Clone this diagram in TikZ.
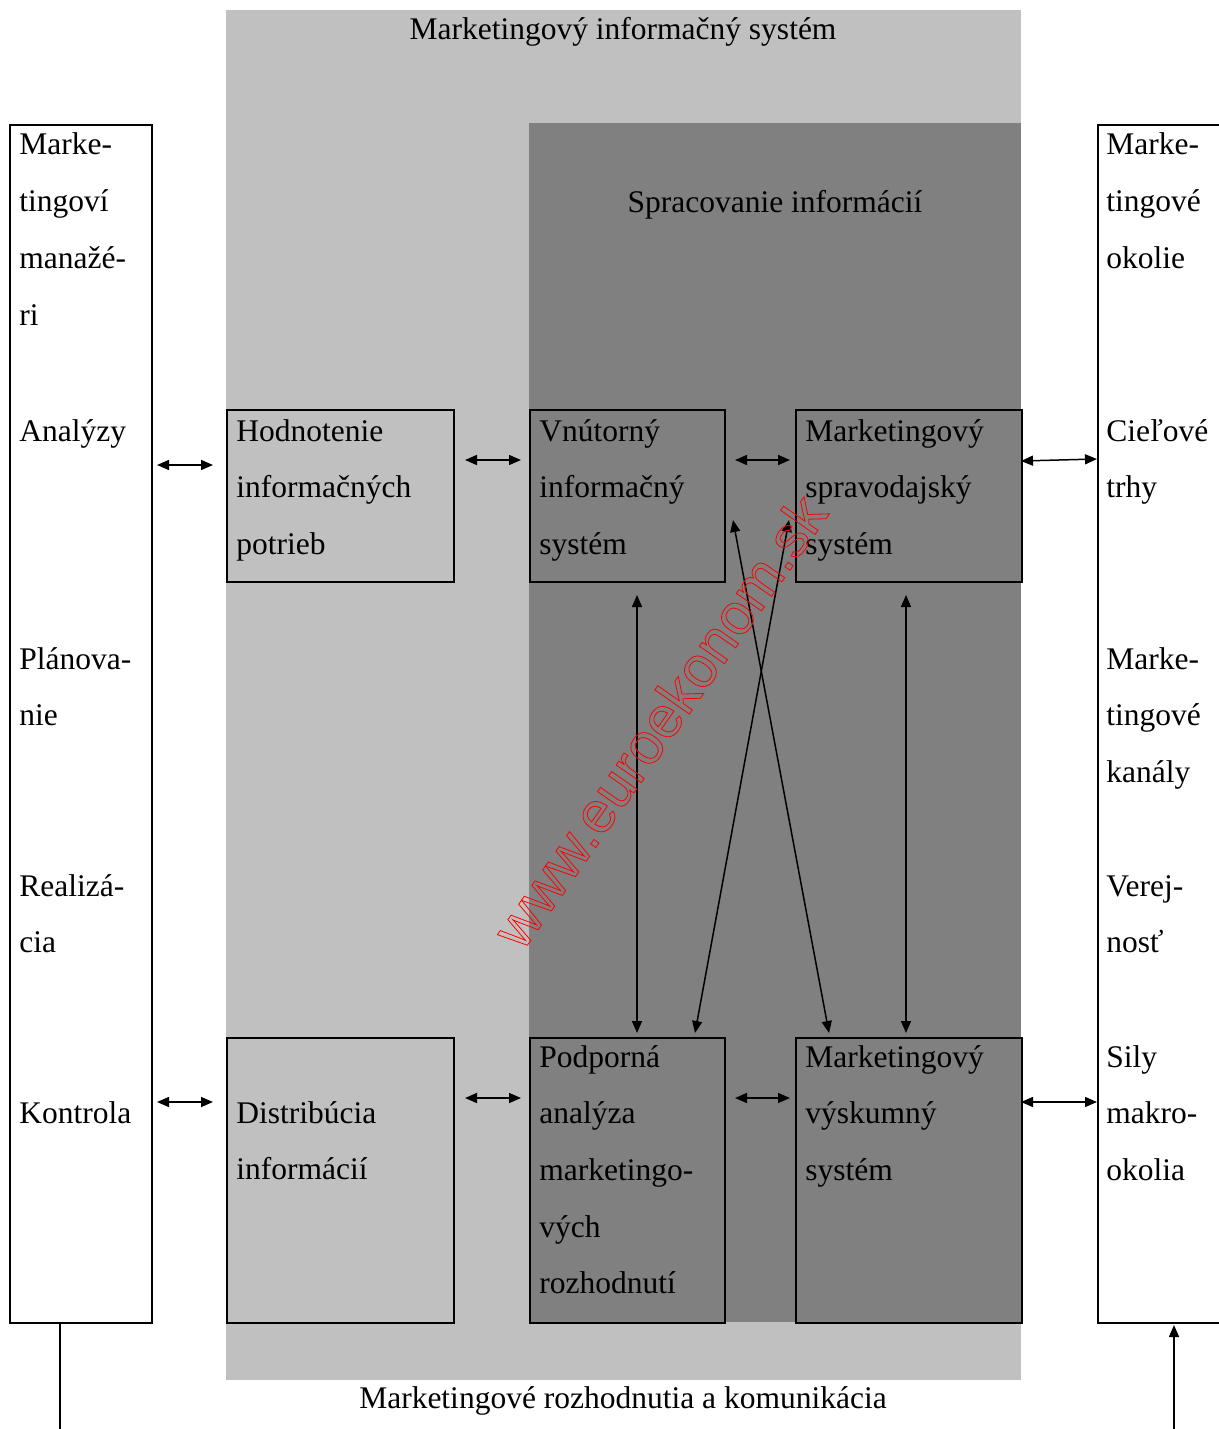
\documentclass[tikz,border=0pt]{standalone}
\usepackage{fontspec}
\setmainfont{Liberation Serif}
\newfontfamily\wmfont{Liberation Sans}
\usetikzlibrary{arrows.meta}
\definecolor{lightbg}{HTML}{C0C0C0}
\definecolor{darkbg}{HTML}{808080}
\newcommand\txtlines[4]{%
  \foreach \t [count=\i] in {#4} {
    \node[lbl] (#1-\i) at (#2, {#3+56.7*(\i-1)}) {\t};
  }%
}
\begin{document}
\begin{tikzpicture}[x=0.5pt,y=-0.5pt,
  lbl/.style={anchor=base west, inner sep=0pt, font=\fontsize{15.75}{18}\selectfont},
  title/.style={anchor=base, inner sep=0pt, font=\fontsize{15.75}{18}\selectfont},
  boxline/.style={draw=black, line width=1pt},
  conn/.style={line width=0.75pt, {Triangle[length=6pt,width=5pt]}-{Triangle[length=6pt,width=5pt]}},
  oneway/.style={line width=0.75pt, -{Triangle[length=6pt,width=5pt]}}]
\useasboundingbox (0,0) rectangle (1219,1429);
\fill[white] (0,0) rectangle (1219,1429);
% background regions
\fill[lightbg] (226,10) rectangle (1021,1380);
\fill[darkbg] (529,123) rectangle (1021,1322);
% side boxes
\node[boxline, fill=white, inner sep=0pt, minimum width=71pt, minimum height=599pt, anchor=north west] (mgr) at (9,124) {};
\node[boxline, fill=white, inner sep=0pt, minimum width=64pt, minimum height=599pt, anchor=north west] (env) at (1097,124) {};
% inner boxes
\node[boxline, fill=lightbg, inner sep=0pt, minimum width=113.5pt, minimum height=86pt, anchor=north west] (hod) at (226,409) {};
\node[boxline, fill=darkbg, inner sep=0pt, minimum width=97.5pt, minimum height=86pt, anchor=north west] (vnu) at (529,409) {};
\node[boxline, fill=darkbg, inner sep=0pt, minimum width=113pt, minimum height=86pt, anchor=north west] (spr) at (795,409) {};
\node[boxline, fill=lightbg, inner sep=0pt, minimum width=113.5pt, minimum height=142.5pt, anchor=north west] (dis) at (226,1037) {};
\node[boxline, fill=darkbg, inner sep=0pt, minimum width=97.5pt, minimum height=142.5pt, anchor=north west] (pod) at (529,1037) {};
\node[boxline, fill=darkbg, inner sep=0pt, minimum width=113pt, minimum height=142.5pt, anchor=north west] (vys) at (795,1037) {};
% titles
\node[title] (t1) at (623,40) {Marketingový informačný systém};
\node[title] (t2) at (775,212) {Spracovanie informácií};
\node[title] (t3) at (623,1408) {Marketingové rozhodnutia a komunikácia};
% left texts
\txtlines{la}{19}{155}{Marke-,tingoví,manažé-,ri}
\txtlines{lb}{19}{441}{Analýzy}
\txtlines{lc}{19}{669}{Plánova-,nie}
\txtlines{ld}{19}{896}{Realizá-,cia}
\txtlines{le}{19}{1123}{Kontrola}
% right texts
\txtlines{ra}{1106}{155}{Marke-,tingové,okolie}
\txtlines{rb}{1106}{441}{Cieľové,trhy}
\txtlines{rc}{1106}{669}{Marke-,tingové,kanály}
\txtlines{rd}{1106}{896}{Verej-,nosť}
\txtlines{re}{1106}{1067}{Sily,makro-,okolia}
% box texts
\txtlines{ha}{236}{441}{Hodnotenie,informačných,potrieb}
\txtlines{va}{539}{441}{Vnútorný,informačný,systém}
\txtlines{sa}{805}{441}{Marketingový,spravodajský,systém}
\txtlines{da}{236}{1123}{Distribúcia,informácií}
\txtlines{pa}{539}{1067}{Podporná,analýza,marketingo-,vých,rozhodnutí}
\txtlines{ya}{805}{1067}{Marketingový,výskumný,systém}
% connector end points
\coordinate (a1) at (157,465); \coordinate (a2) at (213,465);
\coordinate (b1) at (465,460); \coordinate (b2) at (521,460);
\coordinate (c1) at (735,460); \coordinate (c2) at (790,460);
\coordinate (d1) at (1021,461); \coordinate (d2) at (1097,459);
\coordinate (e1) at (157,1102); \coordinate (e2) at (213,1102);
\coordinate (f1) at (465,1098); \coordinate (f2) at (521,1098);
\coordinate (g1) at (735,1098); \coordinate (g2) at (790,1098);
\coordinate (h1) at (1021,1102); \coordinate (h2) at (1097,1102);
\coordinate (v1) at (637,595); \coordinate (v2) at (637,1033);
\coordinate (w1) at (906,595); \coordinate (w2) at (906,1033);
\coordinate (x1) at (733,520); \coordinate (x2) at (829,1033);
\coordinate (y1) at (789,520); \coordinate (y2) at (695,1033);
\coordinate (bl1) at (60,1322); \coordinate (bl2) at (60,1432);
\coordinate (br1) at (1174,1432); \coordinate (br2) at (1174,1325);
\draw[conn] (a1) -- (a2);
\draw[conn] (b1) -- (b2);
\draw[conn] (c1) -- (c2);
\draw[conn] (d1) -- (d2);
\draw[conn] (e1) -- (e2);
\draw[conn] (f1) -- (f2);
\draw[conn] (g1) -- (g2);
\draw[conn] (h1) -- (h2);
\draw[conn] (v1) -- (v2);
\draw[conn] (w1) -- (w2);
\draw[conn] (x1) -- (x2);
\draw[conn] (y1) -- (y2);
\draw[line width=0.9pt] (bl1) -- (bl2);
\draw[oneway] (br1) -- (br2);
% watermark
\node[anchor=base, inner sep=0pt, rotate=55, text=red, font=\wmfont\fontsize{29}{31}\selectfont] (wm) at (676,733)
  {\special{pdf:literal direct 1 0 0 RG 0.4 w 1 Tr}www.euroekonom.sk\special{pdf:literal direct 0 Tr}};
\end{tikzpicture}
\end{document}
